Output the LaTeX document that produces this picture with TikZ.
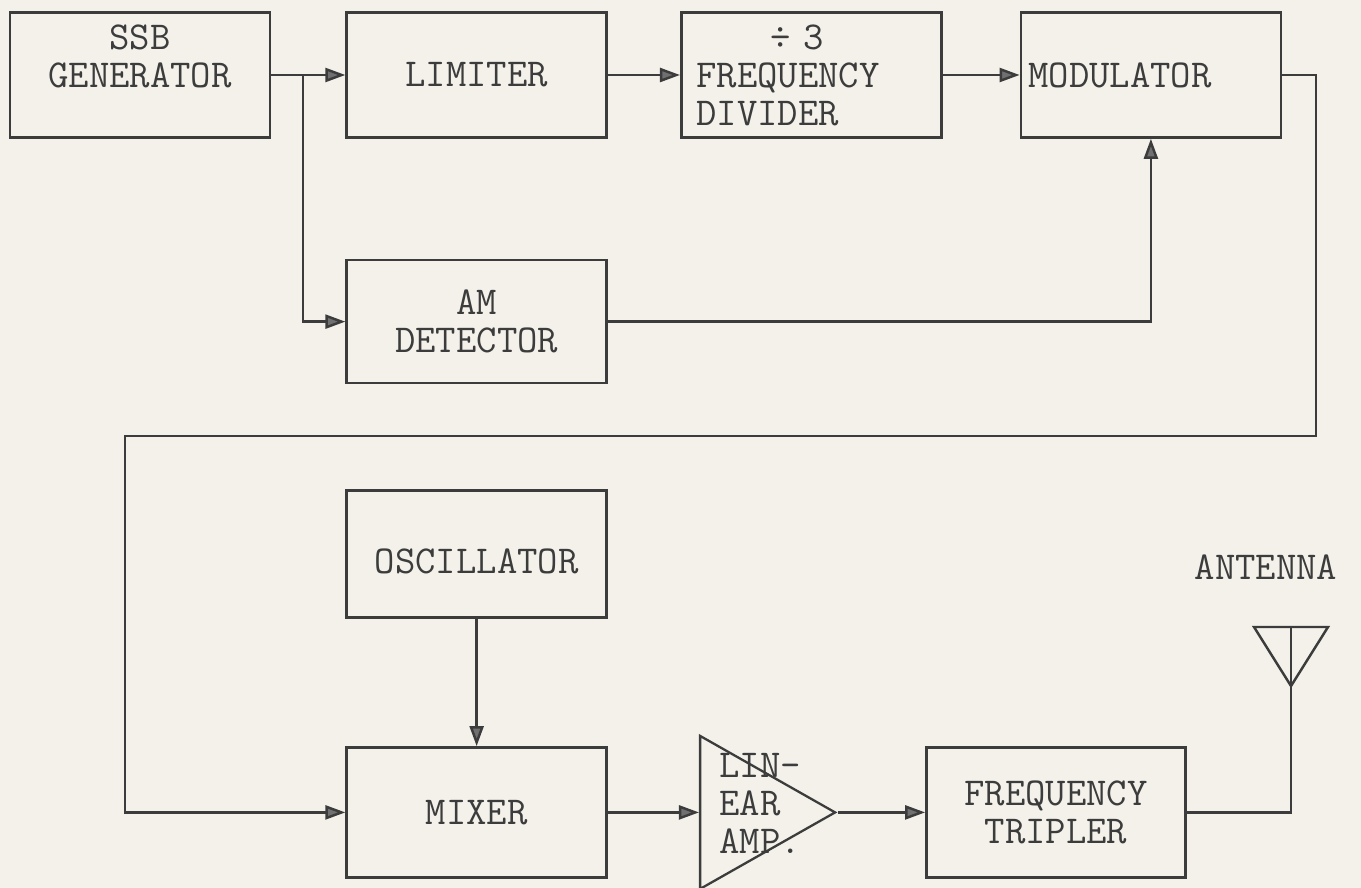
\documentclass[tikz,border=0pt]{standalone}
\usepackage{fontspec}
\usetikzlibrary{shapes,arrows.meta,positioning,calc}
\definecolor{paper}{HTML}{F3F1EA}
\definecolor{ink}{HTML}{3C3C3C}
\definecolor{tipGray}{HTML}{707070}

\begin{document}
\begin{tikzpicture}[
            block/.style={
                    rectangle,
                    draw=ink,
                    line width=1.5pt,
                    minimum width=5.2cm,
                    minimum height=2.5cm,
                    inner sep=4pt,
                    align=center,
                    text=ink,
                    font=\ttfamily\fontsize{22.5}{21.6}\selectfont
                },
            amplifier/.style={
                    isosceles triangle,
                    isosceles triangle stretches,
                    draw=ink,
                    line width=1.3pt,
                    minimum width=3.06cm,
                    minimum height=2.7cm,
                    inner sep=0pt
                },
            tag/.style={
                    text=ink,
                    align=left,
                    inner sep=4pt,
                    font=\ttfamily\fontsize{22.5}{21.6}\selectfont
                },
            wire/.style={
                    draw=ink,
                    line width=1.4pt
                },
            arrow/.style={
                    wire,
                    -{Triangle[length=4mm,width=2.8mm,fill=tipGray]}
                }
        ]

        \fill[paper] (0,0) rectangle (27.22,-17.76);
        \useasboundingbox (0,0) rectangle (27.22,-17.76);

        % Rangee du haut
        \node[block] (ssb) at (2.8,-1.5) {SSB\\GENERATOR\\~};
        \node[block, right=1.48cm of ssb] (limiter) {LIMITER};
        \node[block, right=1.44cm of limiter, text width=4.6cm, align=left] (divider) {\hspace*{1.48cm}÷ 3\\FREQUENCY\\DIVIDER};
        \node[block, right=1.54cm of divider, text width=4.9cm, align=left] (modulator) {MODULATOR};

        % Detecteur
        \node[block, below=2.4cm of limiter, minimum height=2.46cm] (am) {AM\\DETECTOR};

        % Rangee du bas
        \node[block, below=2.1cm of am, minimum height=2.54cm] (osc) {~\\OSCILLATOR};
        \node[block, below=2.54cm of osc, minimum height=2.6cm] (mixer) {MIXER};
        \node[amplifier, right=1.82cm of mixer] (amp) {};
        \node[tag, anchor=west] (amptxt) at ([xshift=0.26cm, yshift=0.18cm]amp.west) {LIN-\\EAR\\AMP.};
        \node[block, right=1.74cm of amp, minimum width=5.18cm, minimum height=2.6cm] (tripler) {FREQUENCY\\TRIPLER};

        % Antenne
        \coordinate (ant) at (25.82,-13.72);
        \node[tag] (antlbl) at (25.32,-11.34) {ANTENNA};
        \draw[wire] (ant) -- ++(-0.74,1.18) -- ++(1.48,0) -- cycle;
        \draw[wire] (ant) -- ++(0,1.18);

        % Points de passage
        \coordinate (split) at ($(ssb.east)!0.43!(limiter.west)$);
        \coordinate (fbr) at (26.32,-8.72);
        \coordinate (fbl) at (2.5,-8.72);

        % Flux principal
        \draw[arrow] (ssb) -- (limiter);
        \draw[arrow] (limiter) -- (divider);
        \draw[arrow] (divider) -- (modulator);
        \draw[arrow] (split) |- (am);
        \draw[arrow] (am) -| (modulator);

        % Retour vers le melangeur
        \draw[arrow] (modulator.east) -| (fbr) -- (fbl) |- (mixer);
        \draw[arrow] (osc) -- (mixer);
        \draw[arrow] (mixer) -- (amp);
        \draw[arrow] (amp) -- (tripler);
        \draw[wire] (tripler) -| (ant);

    \end{tikzpicture}
\end{document}
